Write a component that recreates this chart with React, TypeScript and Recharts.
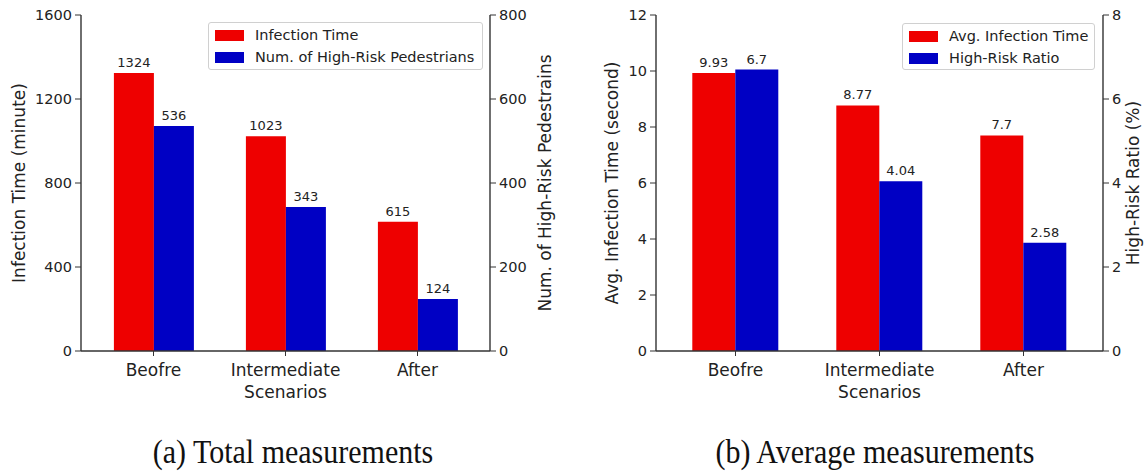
import React from "react";
import { BarChart, Bar, XAxis, YAxis, LabelList } from "recharts";

const categories = ["Beofre", "Intermediate\nScenarios", "After"];
const infectionTime = [1324, 1023, 615];
const highRiskPedestrians = [536, 343, 124];
const avgInfectionTime = [9.93, 8.77, 7.7];
const highRiskRatio = [6.7, 4.04, 2.58];
const ticksA = [0, 400, 800, 1200, 1600];
const ticksARight = [0, 200, 400, 600, 800];
const ticksB = [0, 2, 4, 6, 8, 10, 12];
const ticksBRight = [0, 2, 4, 6, 8];

const RED = "#ee0000";
const BLUE = "#0000c4";
const SPINE = "#333";
const FONT = "DejaVu Sans, sans-serif";
const TEXT = "#222";

const dataA = categories.map((c, i) => ({ cat: c, a: infectionTime[i], b: highRiskPedestrians[i] }));
const dataB = categories.map((c, i) => ({ cat: c, a: avgInfectionTime[i], b: highRiskRatio[i] }));

const CatTick = (props: any) => {
  const { x, y, payload } = props;
  const lines = String(payload.value).split("\n");
  return (
    <text x={x} y={y} textAnchor="middle" fontFamily={FONT} fontSize={17} fill={TEXT}>
      {lines.map((l, i) => (
        <tspan key={i} x={x} dy={i === 0 ? 18 : 22}>{l}</tspan>
      ))}
    </text>
  );
};

const axisTitle = (value: string, dx: number) => (props: any) => {
  const vb = props.viewBox || {};
  const cx = (vb.x || 0) + dx;
  const cy = (vb.y || 0) + (vb.height || 0) / 2;
  return (
    <text x={cx} y={cy} transform={`rotate(-90, ${cx}, ${cy})`} textAnchor="middle" dominantBaseline="central" fontFamily={FONT} fontSize={17} fill={TEXT}>
      {value}
    </text>
  );
};

const tickStyle = { fontFamily: FONT, fontSize: 14.5, fill: TEXT };

const LegendBox = ({ left, top, width, height, items }: any) => (
  <div style={{ position: "absolute", left, top, width, height, border: "1px solid #d0d0d0", borderRadius: 3, background: "rgba(255,255,255,0.85)", boxSizing: "border-box", fontFamily: FONT, fontSize: 14.5, color: TEXT }}>
    {items.map((it: any, i: number) => (
      <div key={i} style={{ position: "absolute", left: 6, top: 6 + i * 22, height: 12, display: "flex", alignItems: "center", whiteSpace: "nowrap" }}>
        <span style={{ display: "inline-block", width: 29, height: 11, background: it.color }} />
        <span style={{ marginLeft: 11, lineHeight: "12px" }}>{it.label}</span>
      </div>
    ))}
  </div>
);

const Panel = ({ data, width, leftTicks, rightTicks, leftTitle, rightTitle, leftDx, rightDx, pad, labelFmt }: any) => (
  <BarChart width={width} height={420} data={data} margin={{ top: 15, right: 0, left: 0, bottom: 9 }} barCategoryGap="20%" barGap={0}>
    <XAxis dataKey="cat" height={60} tick={<CatTick />} tickSize={5} tickMargin={2} axisLine={{ stroke: SPINE, strokeWidth: 1.4 }} tickLine={{ stroke: SPINE }} padding={{ left: pad, right: pad }} interval={0} />
    <XAxis xAxisId="top" dataKey="cat" orientation="top" height={0} tick={false} tickLine={false} axisLine={{ stroke: SPINE, strokeWidth: 1.4 }} padding={{ left: pad, right: pad }} />
    <YAxis yAxisId="left" width={81} domain={[leftTicks[0], leftTicks[leftTicks.length - 1]]} ticks={leftTicks} interval={0} tick={tickStyle} tickSize={6} tickMargin={3} axisLine={{ stroke: SPINE, strokeWidth: 1.4 }} tickLine={{ stroke: SPINE }} label={{ content: axisTitle(leftTitle, leftDx) }} />
    <YAxis yAxisId="right" orientation="right" width={width - (width === 560 ? 490 : 528)} domain={[rightTicks[0], rightTicks[rightTicks.length - 1]]} ticks={rightTicks} interval={0} tick={tickStyle} tickSize={6} tickMargin={3} axisLine={{ stroke: SPINE, strokeWidth: 1.4 }} tickLine={{ stroke: SPINE }} label={{ content: axisTitle(rightTitle, rightDx) }} />
    <Bar yAxisId="left" dataKey="a" fill={RED} isAnimationActive={false}>
      <LabelList dataKey="a" position="top" offset={6} style={{ fontFamily: FONT, fontSize: 13, fill: TEXT }} formatter={labelFmt} />
    </Bar>
    <Bar yAxisId="right" dataKey="b" fill={BLUE} isAnimationActive={false}>
      <LabelList dataKey="b" position="top" offset={6} style={{ fontFamily: FONT, fontSize: 13, fill: TEXT }} formatter={labelFmt} />
    </Bar>
  </BarChart>
);

const fmt = (v: any) => String(v);

export default function App() {
  return (
    <div style={{ position: "absolute", left: 0, top: 0, width: 1145, height: 472, background: "#fff", overflow: "hidden" }}>
      <div style={{ position: "absolute", left: 0, top: 0 }}>
        <Panel data={dataA} width={560} leftTicks={ticksA} rightTicks={ticksARight} leftTitle="Infection Time (minute)" rightTitle="Num. of High-Risk Pedestrains" leftDx={19} rightDx={55} pad={6.5} labelFmt={fmt} />
      </div>
      <div style={{ position: "absolute", left: 575, top: 0 }}>
        <Panel data={dataB} width={570} leftTicks={ticksB} rightTicks={ticksBRight} leftTitle="Avg. Infection Time (second)" rightTitle="High-Risk Ratio (%)" leftDx={37} rightDx={30} pad={7.5} labelFmt={fmt} />
      </div>
      <LegendBox left={208} top={22} width={275} height={48} items={[{ color: RED, label: "Infection Time" }, { color: BLUE, label: "Num. of High-Risk Pedestrians" }]} />
      <LegendBox left={902} top={23} width={193} height={47} items={[{ color: RED, label: "Avg. Infection Time" }, { color: BLUE, label: "High-Risk Ratio" }]} />
      <svg width={1145} height={472} style={{ position: "absolute", left: 0, top: 0, pointerEvents: "none" }}>
        <text x={293} y={463} textAnchor="middle" fontFamily="Liberation Serif, serif" fontSize={30} fill="#111" transform="translate(0,463) scale(1,1.1) translate(0,-463)">(a) Total measurements</text>
        <text x={875} y={463} textAnchor="middle" fontFamily="Liberation Serif, serif" fontSize={30} fill="#111" transform="translate(0,463) scale(1,1.1) translate(0,-463)">(b) Average measurements</text>
      </svg>
    </div>
  );
}
